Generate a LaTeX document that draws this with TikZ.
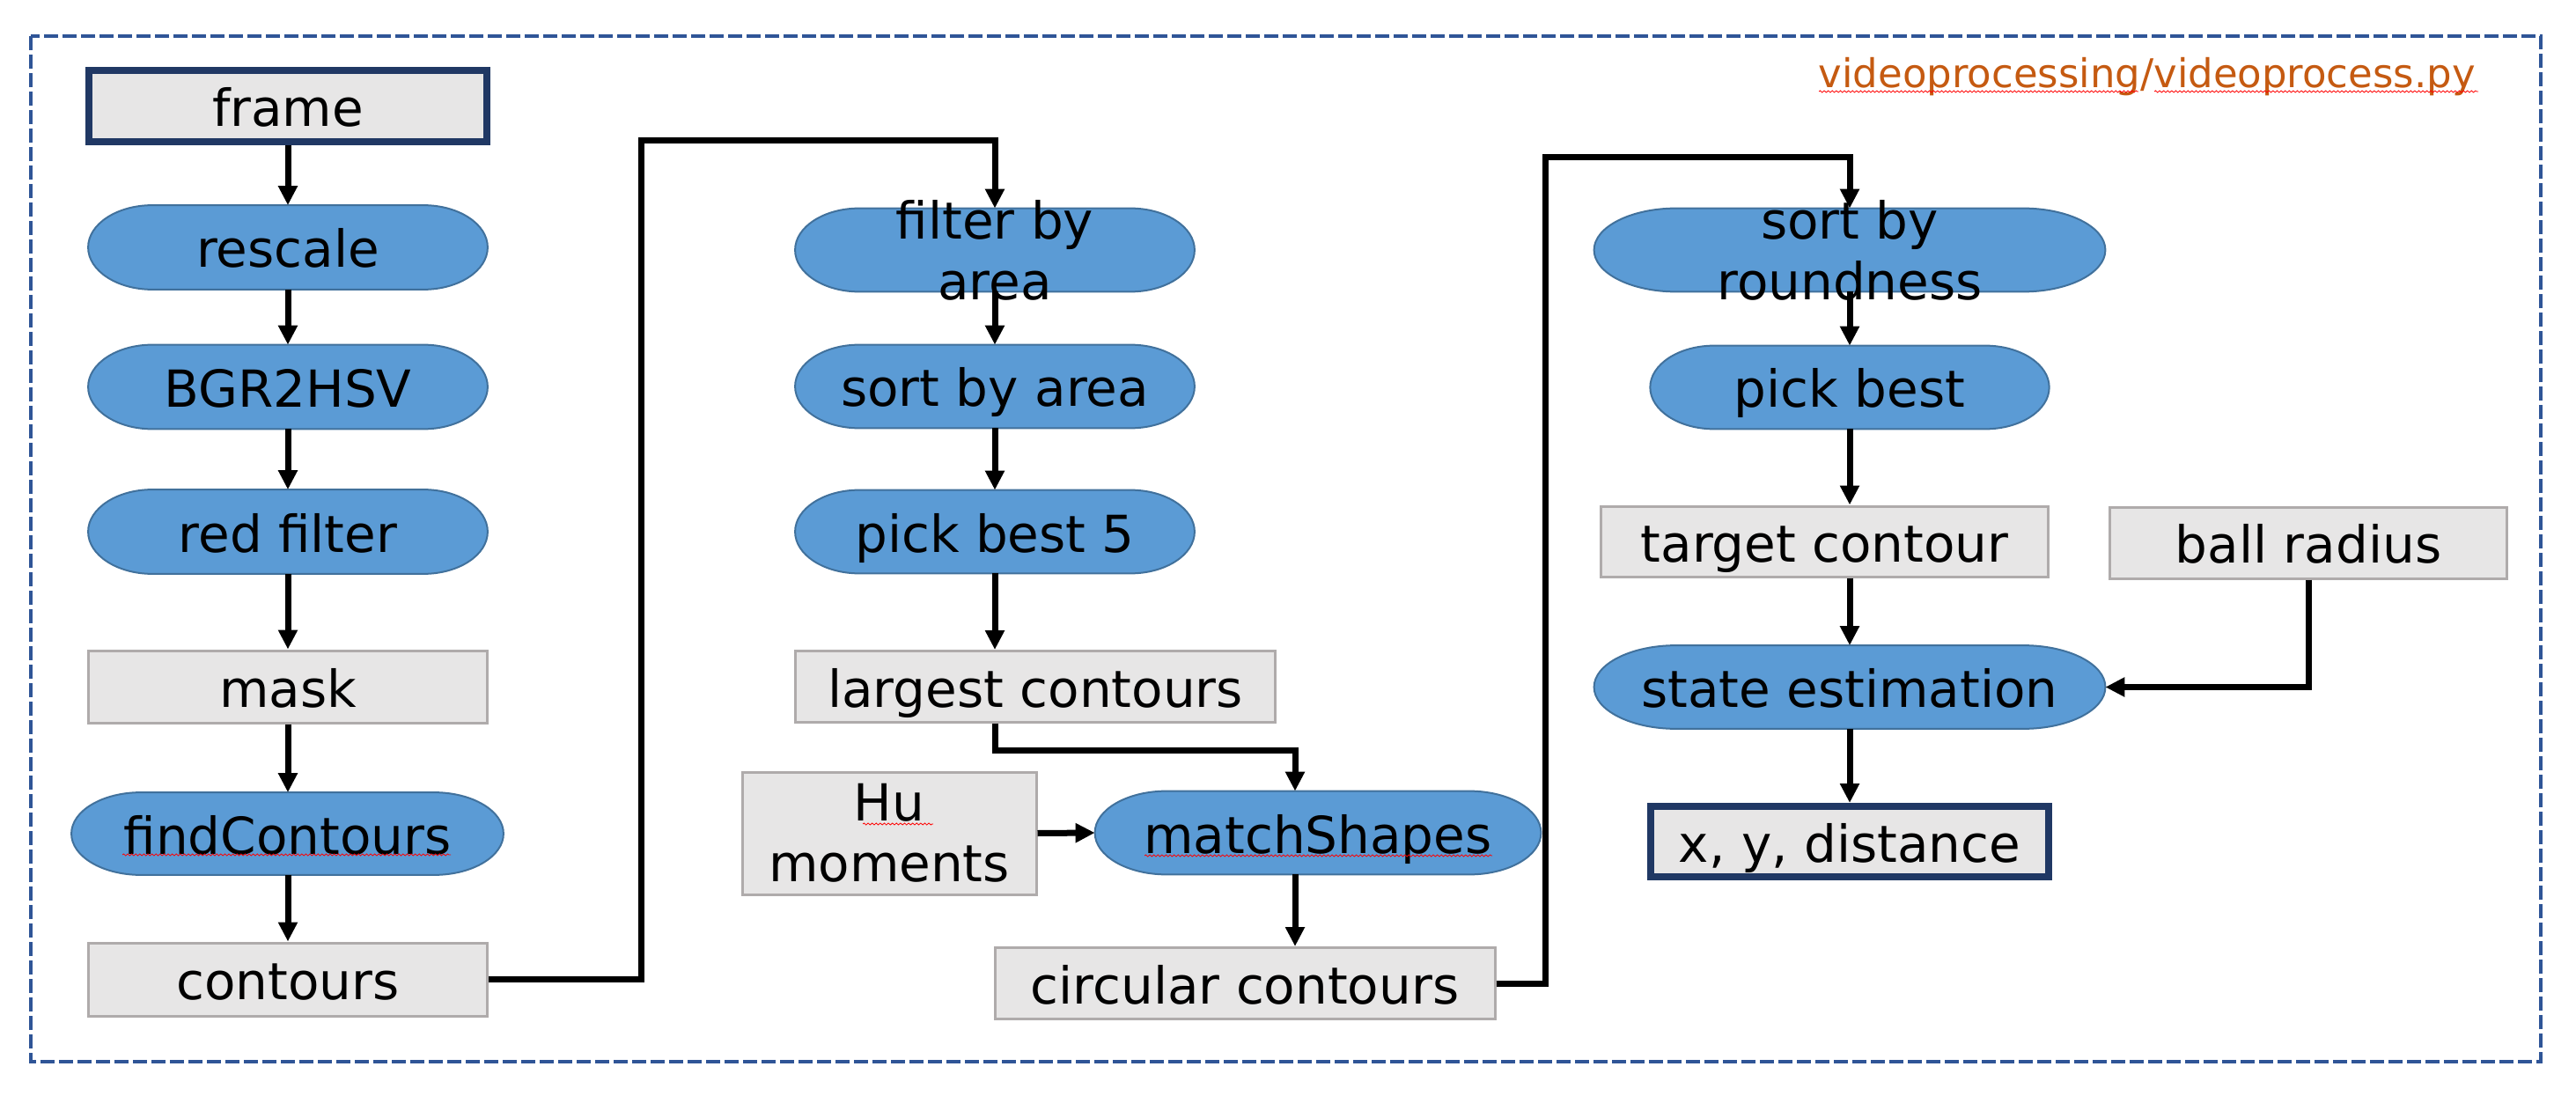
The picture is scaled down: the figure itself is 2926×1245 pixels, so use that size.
\documentclass[tikz,border=0pt]{standalone}
\usepackage{fontspec}
\setmainfont{DejaVu Sans}
\usetikzlibrary{arrows.meta,backgrounds,decorations.pathmorphing,calc}
\definecolor{termfill}{HTML}{5B9BD5}
\definecolor{termline}{HTML}{41719C}
\definecolor{boxfill}{HTML}{E7E6E6}
\definecolor{boxline}{HTML}{AFABAB}
\definecolor{navy}{HTML}{203864}
\definecolor{frameblue}{HTML}{2F5597}
\definecolor{titlecol}{HTML}{C55A11}
\newcommand\termshape[1]{%
  \begin{pgfonlayer}{background}
  \path[fill=termfill, draw=termline, line width=1pt]
    let \p1=(#1.north west), \p2=(#1.south east),
        \n1={0.161*(\x2-\x1)}, \n2={(\y1-\y2)/2} in
    ({\x1+\n1*1pt},\y1) -- ({\x2-\n1*1pt},\y1)
    arc[start angle=90, end angle=-90, x radius=\n1*1pt, y radius=\n2*1pt]
    -- ({\x1+\n1*1pt},\y2)
    arc[start angle=270, end angle=90, x radius=\n1*1pt, y radius=\n2*1pt]
    -- cycle;
  \end{pgfonlayer}}
\begin{document}
\begin{tikzpicture}[x=0.5pt,y=-0.5pt,
  lbl/.style={font=\fontsize{29pt}{34.5pt}\selectfont, inner sep=0pt, text=black},
  one/.style={text height=23pt, text depth=0pt},
  boxbase/.style={lbl, draw=boxline, fill=boxfill, line width=1.5pt},
  gbox/.style={boxbase, one},
  nbox/.style={lbl, one, draw=navy, fill=boxfill, line width=4pt},
  term/.style={lbl, one},
  twoline/.style={lbl, align=center},
  conn/.style={draw=black, line width=3.5pt, -{Triangle[length=11pt,width=10.5pt]}},
  squig/.style={draw=red, line width=0.4pt, decorate, decoration={snake, segment length=2.3pt, amplitude=0.5pt}}]
\useasboundingbox (0,0) rectangle (2926,1245);
\draw[frameblue, line width=1.8pt, dash pattern=on 8pt off 2.5pt] (35,41) rectangle (2886,1206);

\node[lbl, font=\fontsize{22.5pt}{27pt}\selectfont, text=titlecol, anchor=base east] (title) at (2812,100) {videoprocessing/videoprocess.py};

% column 1
\node[nbox, minimum width=226pt, minimum height=40.5pt] (frame) at (327,120.5) {frame};
\node[term, minimum width=226.5pt, minimum height=47.5pt] (rescale) at (327,281) {rescale};
\node[term, minimum width=226.5pt, minimum height=47.5pt] (bgr) at (327,439.5) {BGR2HSV};
\node[term, minimum width=226.5pt, minimum height=47.5pt] (red) at (327,604) {red filter};
\node[gbox, minimum width=226.5pt, minimum height=41pt] (mask) at (327,780) {mask};
\node[term, minimum width=245pt, minimum height=46.5pt] (find) at (326.5,947) {findContours};
\node[gbox, minimum width=226.5pt, minimum height=41.5pt] (contours) at (327,1112.5) {contours};

% column 2
\node[lbl, minimum width=226.5pt, minimum height=47pt] (fba) at (1130,284) {};
\node[twoline] (fbat) at (1130,284) {filter by\\area};
\node[term, minimum width=226.5pt, minimum height=47pt] (sba) at (1130,439) {sort by area};
\node[term, minimum width=226.5pt, minimum height=47pt] (pb5) at (1130,604) {pick best 5};
\node[gbox, minimum width=272.5pt, minimum height=40.5pt] (lc) at (1176,780) {largest contours};
\node[boxbase, align=center, minimum width=167pt, minimum height=69.5pt] (hu) at (1010,946.5) {Hu\\moments};
\node[term, minimum width=253pt, minimum height=47pt] (ms) at (1497,946) {matchShapes};
\node[gbox, minimum width=284pt, minimum height=40.5pt] (cc) at (1414,1117) {circular contours};

% column 3
\node[lbl, minimum width=290pt, minimum height=47pt] (sbr) at (2101,284) {};
\node[twoline] (sbrt) at (2101,284) {sort by\\roundness};
\node[term, minimum width=226.25pt, minimum height=47pt] (pb) at (2101,440) {pick best};
\node[gbox, minimum width=254pt, minimum height=40pt] (tc) at (2072.6,615) {target contour};
\node[gbox, minimum width=225.5pt, minimum height=40.5pt] (br) at (2622,616.5) {ball radius};
\node[term, minimum width=290pt, minimum height=47pt] (se) at (2101,780.5) {state estimation};
\node[nbox, minimum width=226pt, minimum height=40pt] (xyd) at (2101,956) {x, y, distance};

\termshape{rescale}\termshape{bgr}\termshape{red}\termshape{find}
\termshape{fba}\termshape{sba}\termshape{pb5}\termshape{ms}
\termshape{sbr}\termshape{pb}\termshape{se}

% spell-check marks
\draw[squig] (2066,104) -- (2429,104);
\draw[squig] (2447,104) -- (2815,104);
\draw[squig] (980,936) -- (1060,936);
\draw[squig] (1300,972) -- (1695,972);
\draw[squig] (139,971) -- (512,971);

% helper coordinates
\coordinate (c1) at (728.6,160);
\coordinate (c2) at (1130,852.5);
\coordinate (c3) at (1471,852.5);
\coordinate (c4) at (1755,178.7);

% connectors
\draw[conn] (frame.south) -- (rescale.north);
\draw[conn] (rescale.south) -- (bgr.north);
\draw[conn] (bgr.south) -- (red.north);
\draw[conn] (red.south) -- (mask.north);
\draw[conn] (mask.south) -- (find.north -| mask.south);
\draw[conn] (find.south -| contours.north) -- (contours.north);
\draw[conn] (contours.east) -| (c1) -| (fba.north);
\draw[conn] (fba.south) -- (sba.north);
\draw[conn] (sba.south) -- (pb5.north);
\draw[conn] (pb5.south) -- (pb5.south |- lc.north);
\draw[conn] (lc.south -| c2) -- (c2) -- (c3) -- (c3 |- ms.north);
\draw[conn] (hu.east) -- (ms.west);
\draw[conn] (c3 |- ms.south) -- (c3 |- cc.north);
\draw[conn] (cc.east) -| (c4) -| (sbr.north);
\draw[conn] (sbr.south) -- (pb.north);
\draw[conn] (pb.south) -- (pb.south |- tc.north);
\draw[conn] (tc.south -| se.north) -- (se.north);
\draw[conn] (se.south) -- (xyd.north);
\draw[conn] (br.south) |- (se.east);
\end{tikzpicture}
\end{document}
